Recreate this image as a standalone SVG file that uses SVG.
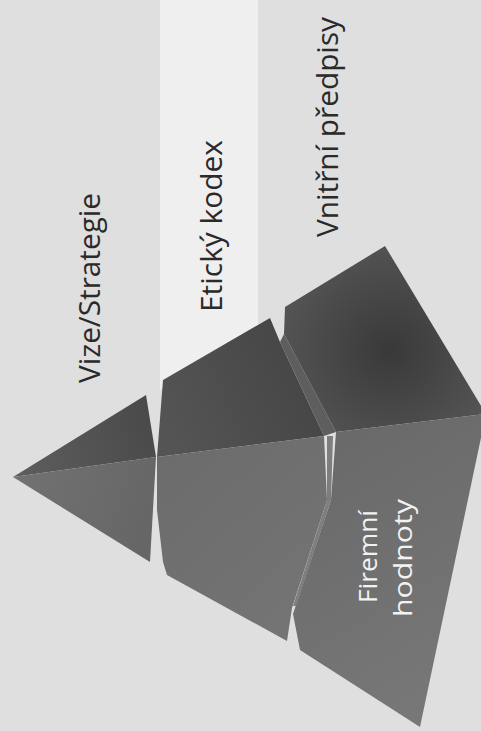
<svg xmlns="http://www.w3.org/2000/svg" width="481" height="731" viewBox="0 0 481 731">
  <defs>
    <style>
      .lbl { font-family: "Open Sans", "Noto Sans", "Liberation Sans", sans-serif; font-size: 30px; fill: #2a2a2a; }
      .inner { font-family: "Open Sans", "Noto Sans", "Liberation Sans", sans-serif; font-size: 26px; fill: #f2f2f2; }
    </style>
    <linearGradient id="top1" gradientUnits="userSpaceOnUse" x1="13" y1="477" x2="150" y2="420">
      <stop offset="0" stop-color="#5e5e5e"/>
      <stop offset="1" stop-color="#4a4a4a"/>
    </linearGradient>
    <linearGradient id="front1" gradientUnits="userSpaceOnUse" x1="13" y1="477" x2="150" y2="520">
      <stop offset="0" stop-color="#727272"/>
      <stop offset="1" stop-color="#666666"/>
    </linearGradient>
    <linearGradient id="top2" gradientUnits="userSpaceOnUse" x1="165" y1="420" x2="300" y2="360">
      <stop offset="0" stop-color="#545454"/>
      <stop offset="1" stop-color="#464646"/>
    </linearGradient>
    <linearGradient id="front2" gradientUnits="userSpaceOnUse" x1="160" y1="460" x2="300" y2="620">
      <stop offset="0" stop-color="#6c6c6c"/>
      <stop offset="1" stop-color="#747474"/>
    </linearGradient>
    <radialGradient id="top3" gradientUnits="userSpaceOnUse" cx="390" cy="350" r="115">
      <stop offset="0" stop-color="#393939"/>
      <stop offset="1" stop-color="#555555"/>
    </radialGradient>
    <linearGradient id="front3" gradientUnits="userSpaceOnUse" x1="320" y1="440" x2="460" y2="680">
      <stop offset="0" stop-color="#696969"/>
      <stop offset="1" stop-color="#777777"/>
    </linearGradient>
  </defs>

  <g id="background">
    <rect x="0" y="0" width="481" height="731" fill="#dfdfdf"/>
    <polygon points="160,0 258,0 258,330 160,390" fill="#efefef"/>
  </g>

  <g id="level-vize">
    <polygon points="13,477 146,395 156,457" fill="url(#top1)"/>
    <polygon points="13,477 156,457 150,562" fill="url(#front1)"/>
    <text class="lbl" transform="translate(100,383) rotate(-90)" textLength="190" lengthAdjust="spacingAndGlyphs">Vize/Strategie</text>
  </g>

  <g id="level-eticky-kodex">
    <polygon points="163,380 270,318 280,342 324,436 157,457" fill="url(#top2)"/>
    <polygon points="157,457 324,436 327,500 292,608 287,641 167,575 163,562 157,510" fill="url(#front2)"/>
    <text class="lbl" transform="translate(222,312) rotate(-90)" textLength="172" lengthAdjust="spacingAndGlyphs">Etický kodex</text>
  </g>

  <g id="level-vnitrni-predpisy">
    <polygon points="280,342 284,334 336,432 324,436" fill="#5e5e5e"/>
    <polygon points="285,307 385,246 486,414 336,432 284,334" fill="url(#top3)"/>
    <polygon points="336,432 486,414 420,727 300,650 293,614 331,500" fill="url(#front3)"/>
    <polygon points="327,436 333,436 331,500 296,606 293,606 327,500" fill="#7e7e7e"/>
    <text class="lbl" transform="translate(338,237) rotate(-90)" textLength="220" lengthAdjust="spacingAndGlyphs">Vnitřní předpisy</text>
  </g>

  <g id="level-firemni-hodnoty">
    <text class="inner" transform="translate(377,603) rotate(-90)" textLength="93" lengthAdjust="spacingAndGlyphs">Firemní</text>
    <text class="inner" transform="translate(412,617) rotate(-90)" textLength="118" lengthAdjust="spacingAndGlyphs">hodnoty</text>
  </g>
</svg>
